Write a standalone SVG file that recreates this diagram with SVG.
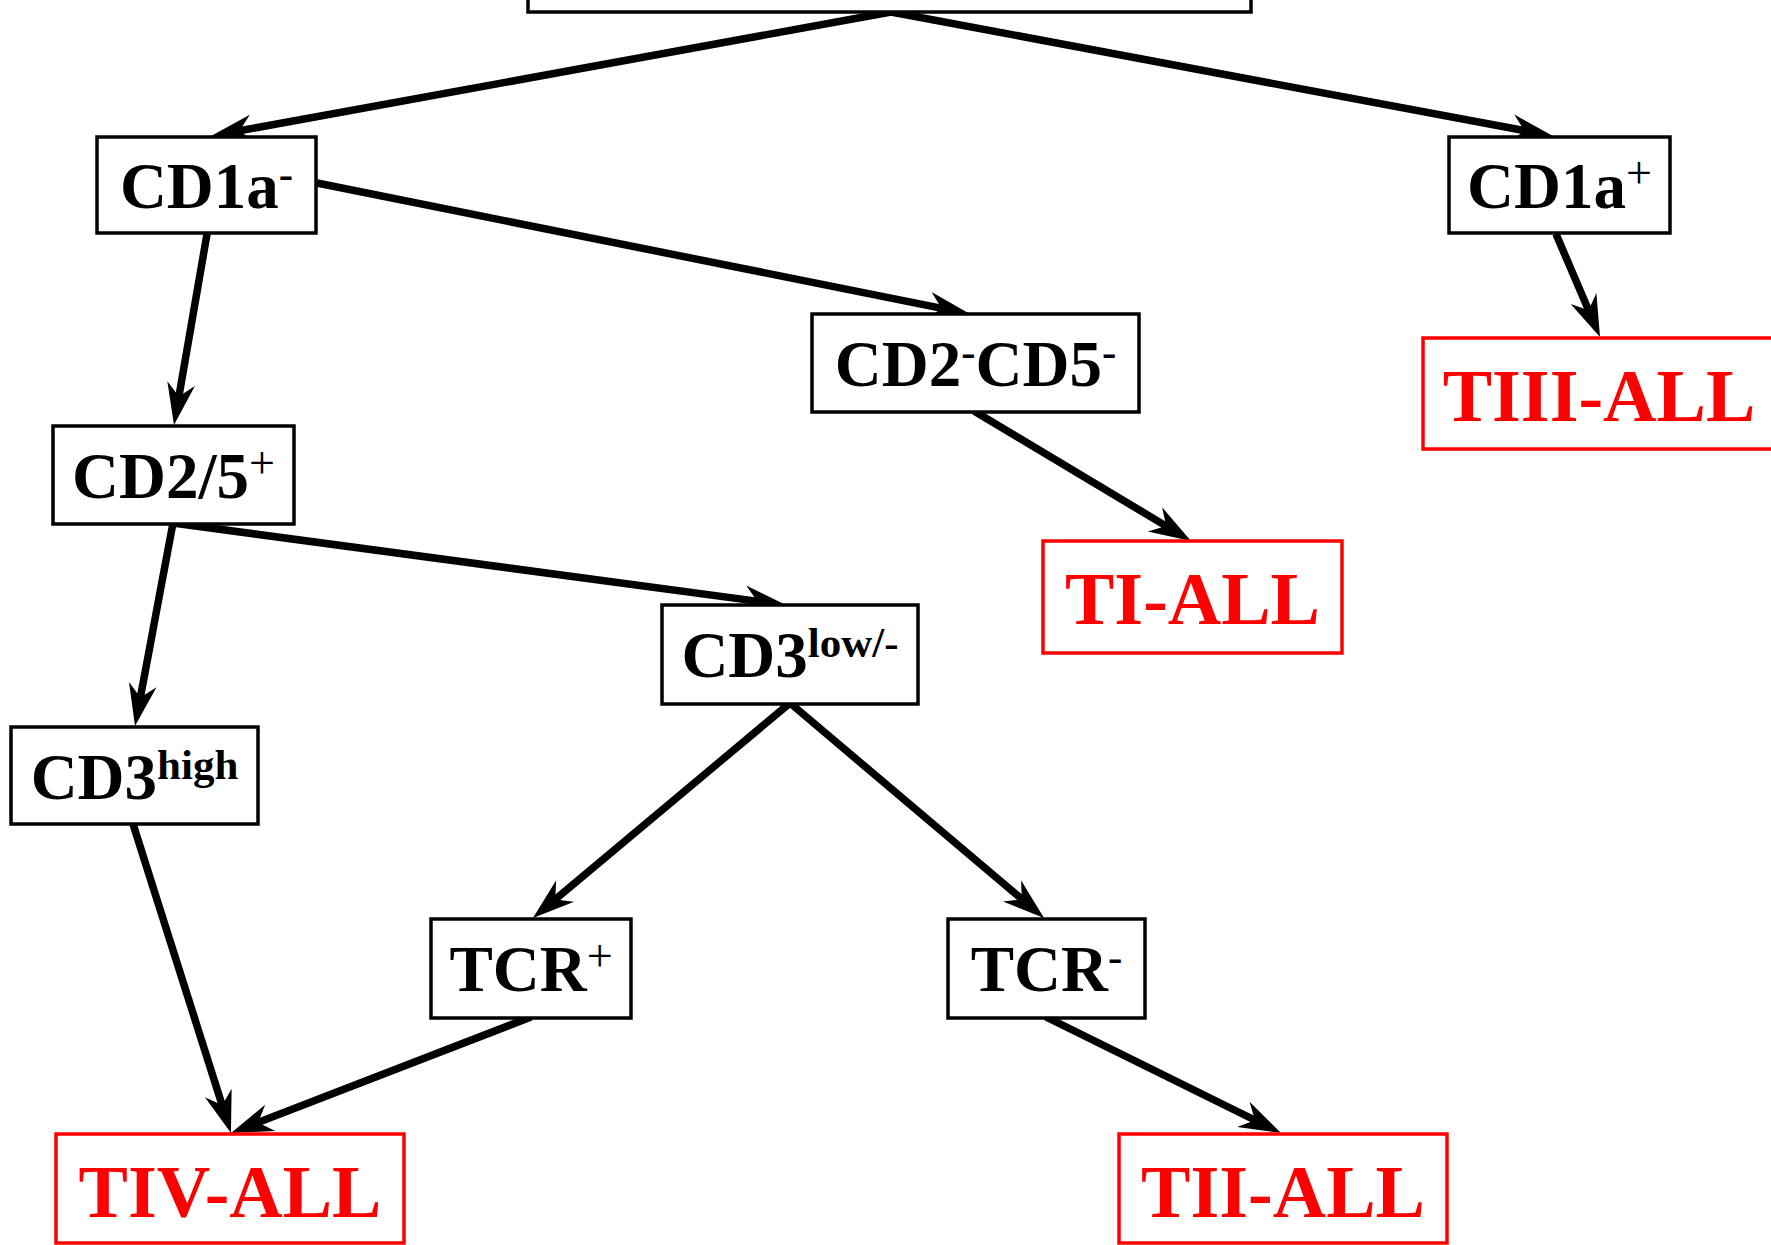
<svg xmlns="http://www.w3.org/2000/svg" width="1771" height="1245" viewBox="0 0 1771 1245">
<style>
.box{fill:#fff;stroke:#000;stroke-width:3.5}
.rbox{fill:#fff;stroke:#ff0000;stroke-width:3.5}
.t{font-family:"Liberation Serif","Times New Roman",serif;font-weight:bold;font-size:65px;fill:#000;text-anchor:middle}
.r{font-family:"Liberation Serif","Times New Roman",serif;font-weight:bold;font-size:74px;fill:#ff0000;text-anchor:middle}
.s{font-size:43px}
.sn{font-size:46px;font-weight:normal}
.c{fill:none;stroke:#000;stroke-width:7.5;marker-end:url(#ah)}
</style>
<defs>
<marker id="ah" markerUnits="userSpaceOnUse" viewBox="-44 -16 46 32" markerWidth="46" markerHeight="32" refX="-26" refY="0" orient="auto">
<path d="M0,0 L-42,-14 L-29,0 L-42,14 Z" fill="#000"/>
</marker>
</defs>
<rect width="1771" height="1245" fill="#fff"/>
<g id="connectors">
<path class="c" d="M891,12 L236.6,131.3"/>
<path class="c" d="M891,12 L1527.4,131.2"/>
<path class="c" d="M317,183 L944.5,308.9"/>
<path class="c" d="M207,234 L178.4,399.4"/>
<path class="c" d="M1556,234 L1589.8,313.1"/>
<path class="c" d="M974,411 L1168.7,527.6"/>
<path class="c" d="M173,523 L760.2,601.6"/>
<path class="c" d="M173,523 L139.8,700.4"/>
<path class="c" d="M790,703 L552.9,901.3"/>
<path class="c" d="M790,703 L1024.2,901.2"/>
<path class="c" d="M133,824 L223.1,1108.2"/>
<path class="c" d="M531,1017 L255.3,1123.6"/>
<path class="c" d="M1046,1017 L1257.7,1121.5"/>
</g>
<g id="top"><rect class="box" x="528" y="-80" width="723" height="92"/></g>
<g id="cd1a-neg"><rect class="box" x="97" y="137" width="219" height="96"/><text class="t" x="206.5" y="208">CD1a<tspan class="s" dy="-20">-</tspan></text></g>
<g id="cd1a-pos"><rect class="box" x="1449" y="137" width="221" height="96"/><text class="t" x="1559.5" y="208">CD1a<tspan class="sn" dy="-20">+</tspan></text></g>
<g id="cd2cd5-neg"><rect class="box" x="812" y="314" width="327" height="98"/><text class="t" x="975.5" y="386">CD2<tspan class="s" dy="-20">-</tspan><tspan dy="20">CD5</tspan><tspan class="s" dy="-20">-</tspan></text></g>
<g id="tiii-all"><rect class="rbox" x="1423" y="338" width="352" height="111"/><text class="r" x="1599" y="421">TIII-ALL</text></g>
<g id="cd25-pos"><rect class="box" x="53" y="426" width="241" height="98"/><text class="t" x="173.5" y="498">CD2/5<tspan class="sn" dy="-20">+</tspan></text></g>
<g id="ti-all"><rect class="rbox" x="1043" y="541" width="299" height="112"/><text class="r" x="1192.5" y="624">TI-ALL</text></g>
<g id="cd3low"><rect class="box" x="662" y="605" width="256" height="99"/><text class="t" x="790" y="677">CD3<tspan class="s" dy="-20">low/-</tspan></text></g>
<g id="cd3high"><rect class="box" x="11" y="727" width="247" height="97"/><text class="t" x="134.5" y="799">CD3<tspan class="s" dy="-20">high</tspan></text></g>
<g id="tcr-pos"><rect class="box" x="431" y="919" width="200" height="99"/><text class="t" x="531" y="991">TCR<tspan class="sn" dy="-20">+</tspan></text></g>
<g id="tcr-neg"><rect class="box" x="948" y="919" width="197" height="99"/><text class="t" x="1046.5" y="991">TCR<tspan class="s" dy="-20">-</tspan></text></g>
<g id="tiv-all"><rect class="rbox" x="56" y="1134" width="348" height="109"/><text class="r" x="230" y="1217">TIV-ALL</text></g>
<g id="tii-all"><rect class="rbox" x="1119" y="1134" width="328" height="109"/><text class="r" x="1283" y="1217">TII-ALL</text></g>
</svg>
